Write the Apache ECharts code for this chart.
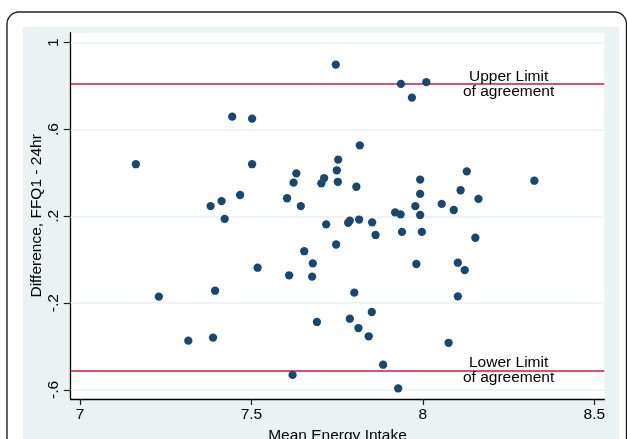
<!DOCTYPE html>
<html><head><meta charset="utf-8">
<script src="https://cdn.jsdelivr.net/npm/echarts@6/dist/echarts.min.js"></script>
<style>html,body{margin:0;padding:0;background:#fff}#c{width:627px;height:439px}</style>
</head><body><div id="c"></div>
<script>
const meanEnergy = [7.163,7.230,7.316,7.388,7.394,7.381,7.413,7.422,7.444,7.502,7.502,7.467,7.604,7.623,7.631,7.644,7.654,7.518,7.610,7.679,7.677,7.747,7.691,7.620,7.746,7.936,8.010,7.968,7.816,7.753,7.749,7.752,7.712,7.704,7.806,7.992,7.992,7.978,8.128,8.110,8.162,8.055,8.090,7.919,7.935,7.992,7.718,7.782,7.787,7.814,7.852,7.862,7.939,7.997,8.153,8.325,7.981,8.102,8.122,7.800,8.102,7.851,7.787,7.812,7.842,8.075,7.884,7.928];
const difference = [0.440,-0.170,-0.373,-0.359,-0.143,0.247,0.270,0.188,0.659,0.650,0.440,0.298,0.283,0.355,0.398,0.247,0.039,-0.037,-0.072,-0.017,-0.078,0.070,-0.287,-0.531,0.899,0.810,0.818,0.747,0.527,0.461,0.412,0.359,0.376,0.352,0.336,0.369,0.303,0.247,0.407,0.320,0.280,0.257,0.229,0.218,0.209,0.206,0.163,0.170,0.180,0.185,0.172,0.114,0.128,0.128,0.101,0.364,-0.020,-0.014,-0.048,-0.152,-0.169,-0.241,-0.272,-0.315,-0.353,-0.383,-0.484,-0.593];
const upperLimit = 0.81;
const lowerLimit = -0.508;
const xTicks = [7, 7.5, 8, 8.5];
const xTickLabels = ['7', '7.5', '8', '8.5'];
const yTicks = [-0.6, -0.2, 0.2, 0.6, 1];
const yTickLabels = ['-.6', '-.2', '.2', '.6', '1'];
const limitLabels = ['Upper Limit\nof agreement', 'Lower Limit\nof agreement'];
const xTitle = 'Mean Energy Intake';
const yTitle = 'Difference, FFQ1 - 24hr';

const FONT = 'Liberation Sans, Arial, Helvetica, sans-serif';
const LABEL_X = 8.25;
function fmt(ticks, labels) {
  return v => { const i = ticks.findIndex(t => Math.abs(t - v) < 1e-9); return i >= 0 ? labels[i] : ''; };
}
const points = meanEnergy.map((x, i) => [x, difference[i]]);

const chart = echarts.init(document.getElementById('c'), null, {renderer: 'canvas'});
chart.setOption({
  animation: false,
  graphic: [
    {type: 'rect', z: -20, shape: {x: 7, y: 12, width: 619.5, height: 480, r: 12},
     style: {fill: '#fff', stroke: '#222', lineWidth: 1.4}},
    {type: 'rect', z: -10, shape: {x: 23, y: 27, width: 596, height: 460},
     style: {fill: '#eaf2f3'}}
  ],
  grid: {left: 70.7, top: 32.7, width: 533.6, height: 366.3, show: true,
         backgroundColor: '#ffffff', borderWidth: 0, containLabel: false, outerBoundsMode: 'none'},
  xAxis: {
    type: 'value', min: 6.973, max: 8.529,
    name: xTitle, nameLocation: 'middle', nameGap: 24,
    nameTextStyle: {color: '#000', fontSize: 15.5, fontFamily: FONT},
    axisLine: {show: true, onZero: false, lineStyle: {color: '#000', width: 1.3}},
    axisTick: {show: true, customValues: xTicks, length: 6, lineStyle: {color: '#222', width: 1.2}},
    axisLabel: {customValues: xTicks, formatter: fmt(xTicks, xTickLabels), color: '#000',
                fontSize: 15.5, fontFamily: FONT, margin: 8},
    splitLine: {show: false}
  },
  yAxis: {
    type: 'value', min: -0.642, max: 1.046,
    name: yTitle, nameLocation: 'middle', nameGap: 26, nameMoveOverlap: false,
    nameTextStyle: {color: '#000', fontSize: 15.5, fontFamily: FONT},
    axisLine: {show: true, onZero: false, lineStyle: {color: '#000', width: 1.3}},
    axisTick: {show: true, customValues: yTicks, length: 7, lineStyle: {color: '#222', width: 1.2}},
    axisLabel: {customValues: yTicks, formatter: fmt(yTicks, yTickLabels), color: '#000',
                fontSize: 15.5, fontFamily: FONT, margin: 9, rotate: 90},
    splitLine: {show: false}
  },
  series: [{
    type: 'scatter', z: 3, data: points, symbol: 'circle', symbolSize: 8.3,
    itemStyle: {color: '#1a476f', opacity: 1}, emphasis: {disabled: true}, silent: true,
    markLine: {
      z: 1, silent: true, symbol: ['none', 'none'], label: {show: false},
      data: yTicks.map(v => ({yAxis: v, lineStyle: {color: '#eaf2f3', width: 1.6, type: 'solid'}}))
        .concat([upperLimit, lowerLimit].map(v => ({yAxis: v, lineStyle: {color: '#d3153d', width: 1.5, type: 'solid'}})))
    },
    markPoint: {
      z: 5, silent: true, symbol: 'circle', symbolSize: 0,
      data: [upperLimit, lowerLimit].map((v, i) => ({
        coord: [LABEL_X, v],
        label: {show: true, position: 'inside', formatter: limitLabels[i], color: '#000',
                fontSize: 15.5, fontFamily: FONT, lineHeight: 15, align: 'center', verticalAlign: 'middle'}
      }))
    }
  }]
});
</script></body></html>
